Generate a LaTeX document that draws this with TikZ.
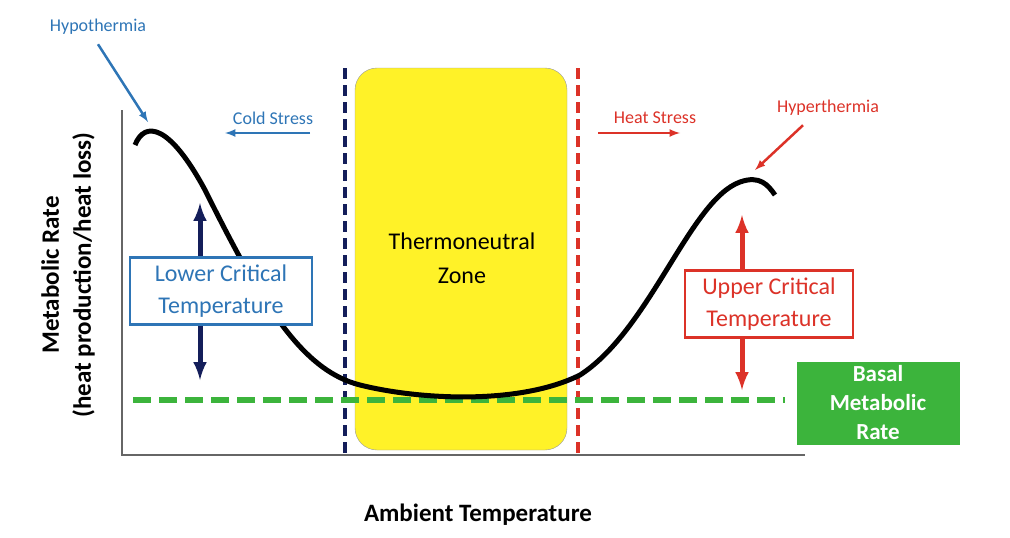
\documentclass[tikz,border=0pt]{standalone}
\usepackage{fontspec}
\setmainfont{Carlito}
\usetikzlibrary{positioning}
\begin{document}
\begin{tikzpicture}[x=1pt,y=-1pt]
    % Define colors
    \definecolor{coldblue}{RGB}{46,117,182}
    \definecolor{navyline}{RGB}{20,30,90}
    \definecolor{hotred}{RGB}{220,50,40}
    \definecolor{zoneyellow}{RGB}{255,242,40}
    \definecolor{basalgreen}{RGB}{60,180,60}
    \tikzset{
        critbox/.style={draw, line width=2.5pt, fill=white, align=center, font=\fontsize{24}{32}\selectfont, inner sep=4pt},
        note/.style={font=\fontsize{18}{22}\selectfont}
    }
    \useasboundingbox (0,0) rectangle (1010,538);

    % Thermoneutral zone
    \fill[zoneyellow, draw=black!40, rounded corners=22pt] (355,68) rectangle (567,450);
    \node (zone) at (462,258) [align=center, font=\fontsize{24}{34}\selectfont] {Thermoneutral\\Zone};

    % Draw the axes
    \draw[black!60, line width=1.2pt] (122,110) -- (122,455) -- (805,455);

    % Critical temperature lines
    \draw[navyline, line width=3.5pt, dash pattern=on 11pt off 6pt] (345,68) -- (345,455);
    \draw[hotred, line width=3.5pt, dash pattern=on 11pt off 6pt] (578,68) -- (578,455);
    \draw[basalgreen, line width=6pt, dash pattern=on 18pt off 8pt] (133,400) -- (785,400);

    % Metabolic curve
    \draw[line width=5pt] (135,145) .. controls (145,120) and (170,125) .. (205,190)
        .. controls (260,300) and (300,370) .. (360,385)
        .. controls (420,400) and (520,405) .. (580,375)
        .. controls (650,330) and (690,200) .. (740,182)
        .. controls (760,175) and (768,185) .. (775,195);

    % Basal metabolic rate
    \node (basal) at (878,403) [fill=basalgreen, text=white, minimum width=163pt, minimum height=83pt, align=center, font=\bfseries\fontsize{23}{29}\selectfont, inner sep=0pt] {Basal\\Metabolic\\Rate};

    % Lower and upper critical temperature
    \coordinate (lowtop) at (200,203);
    \coordinate (lowbot) at (200,380);
    \draw[navyline, line width=5pt, <->, >=latex] (lowtop) -- (lowbot);
    \node (lower) at (221,291) [critbox, draw=coldblue, text=coldblue, minimum width=182pt, minimum height=67pt] {Lower Critical\\Temperature};
    \coordinate (uptop) at (742,215);
    \coordinate (upbot) at (742,390);
    \draw[hotred, line width=5pt, <->, >=latex] (uptop) -- (upbot);
    \node (upper) at (769,304) [critbox, draw=hotred, text=hotred, minimum width=168pt, minimum height=67pt] {Upper Critical\\Temperature};

    % Stress labels
    \node (cold) at (273,118) [note, text=coldblue] {Cold Stress};
    \coordinate (coldstart) at (310,133);
    \coordinate (coldend) at (225,133);
    \draw[coldblue, line width=2.5pt, ->, >=latex] (coldstart) -- (coldend);
    \node (heat) at (655,118) [note, text=hotred] {Heat Stress};
    \coordinate (heatstart) at (598,133);
    \coordinate (heatend) at (680,133);
    \draw[hotred, line width=2.5pt, ->, >=latex] (heatstart) -- (heatend);

    % Extremes
    \node (hypo) at (98,27) [note, text=coldblue] {Hypothermia};
    \coordinate (hypotip) at (148,122);
    \draw[coldblue, line width=2.5pt, ->, >=latex] (hypo.south) ++(0,6) -- (hypotip);
    \node (hyper) at (828,108) [note, text=hotred] {Hyperthermia};
    \coordinate (hypertip) at (755,170);
    \draw[hotred, line width=2.5pt, ->, >=latex] (hyper.south) ++(-25,6) -- (hypertip);

    % Axis labels
    \node (ylabel) at (68,275) [rotate=90, align=center, font=\bfseries\fontsize{25}{32}\selectfont] {Metabolic Rate\\(heat production/heat loss)};
    \node (xlabel) at (478,515) [font=\bfseries\fontsize{25}{30}\selectfont] {Ambient Temperature};
\end{tikzpicture}
\end{document}
